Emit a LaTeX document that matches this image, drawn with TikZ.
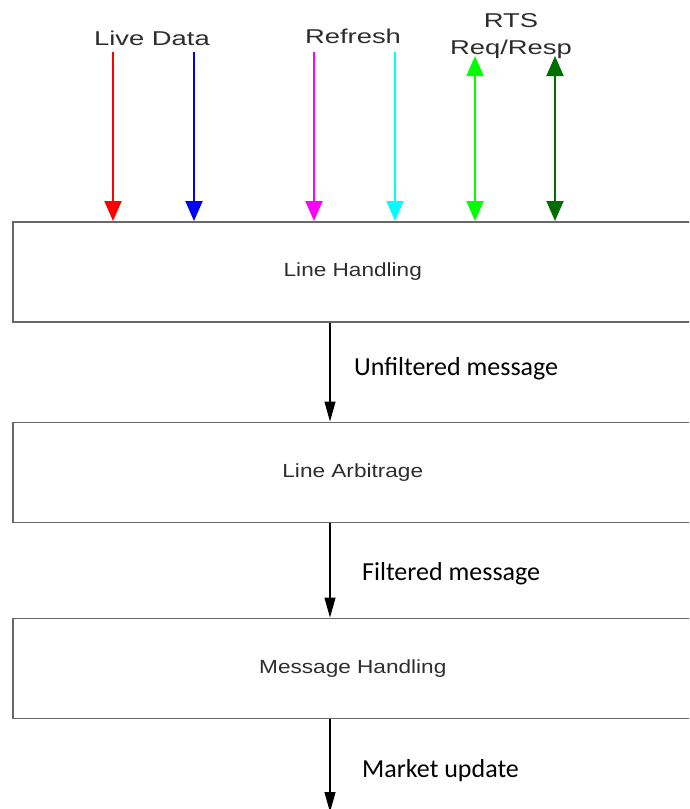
\documentclass[tikz,border=0pt]{standalone}
\usepackage{fontspec}
\usepackage{graphicx}
\newfontfamily\arialfont{Liberation Sans}
\newfontfamily\calfont{Carlito}
\usetikzlibrary{arrows.meta}

\definecolor{boxgray}{RGB}{105,105,105}
\definecolor{labelgray}{RGB}{45,45,45}
\definecolor{feedred}{RGB}{255,0,0}
\definecolor{feedblue}{RGB}{0,0,255}
\definecolor{feedmagenta}{RGB}{255,0,255}
\definecolor{feedcyan}{RGB}{0,255,255}
\definecolor{rtsgreen}{RGB}{0,255,0}
\definecolor{rtsdark}{RGB}{0,110,0}

\newcommand\widetop[1]{\scalebox{1.37}[1]{#1}}
\newcommand\widebox[1]{\scalebox{1.19}[1]{#1}}

\begin{document}
\begin{tikzpicture}[x=1pt,y=-1pt,>={Triangle[width=17pt,length=20pt]}]

    \useasboundingbox (0,0) rectangle (689,809);
    \clip (0,0) rectangle (689,809);

    \tikzstyle{layer}=[draw=boxgray, line width=1.6pt, minimum width=680pt, minimum height=100pt, inner sep=0pt, anchor=north west, text=labelgray, font=\arialfont\fontsize{19}{23}\selectfont]
    \tikzstyle{feedtext}=[text=labelgray, font=\arialfont\fontsize{20}{27}\selectfont, align=center]
    \tikzstyle{feed}=[->, line width=2pt]
    \tikzstyle{rts}=[<->, line width=2pt]
    \tikzstyle{flow}=[->, line width=1.2pt, >={Triangle[width=11pt,length=20pt]}]
    \tikzstyle{flowtext}=[anchor=base west, inner sep=0pt, font=\calfont\fontsize{26}{30}\selectfont]

    % the three processing layers
    \node[layer] (line_handling) at (12,221) {\widebox{Line Handling}};
    \node[layer] (line_arbitrage) at (12,421.5) {\widebox{Line Arbitrage}};
    \node[layer] (message_handling) at (12,617.5) {\widebox{Message Handling}};

    % inputs on top
    \node[feedtext, anchor=base] (live_data) at (152,45) {\widetop{Live Data}};
    \node[feedtext, anchor=base] (refresh) at (353,43) {\widetop{Refresh}};
    \node[feedtext] (rts_req) at (511,36) {\widetop{RTS}\\\widetop{Req/Resp}};

    \coordinate (red_in) at (113,52);
    \coordinate (blue_in) at (194,52);
    \coordinate (magenta_in) at (314,52);
    \coordinate (cyan_in) at (395,52);
    \coordinate (green_in) at (475,56);
    \coordinate (dark_in) at (555,56);
    \coordinate (axis) at (330,0);
    \coordinate (out) at (330,812);

    \draw[feed, feedred] (red_in) -- (red_in |- line_handling.north);
    \draw[feed, feedblue] (blue_in) -- (blue_in |- line_handling.north);
    \draw[feed, feedmagenta] (magenta_in) -- (magenta_in |- line_handling.north);
    \draw[feed, feedcyan] (cyan_in) -- (cyan_in |- line_handling.north);
    \draw[rts, rtsgreen] (green_in) -- (green_in |- line_handling.north);
    \draw[rts, rtsdark] (dark_in) -- (dark_in |- line_handling.north);

    % message flow down through the layers
    \draw[flow] (line_handling.south -| axis) -- (line_arbitrage.north -| axis);
    \draw[flow] (line_arbitrage.south -| axis) -- (message_handling.north -| axis);
    \draw[flow] (message_handling.south -| axis) -- (out);

    \node[flowtext] (unfiltered) at (354,375) {Unfiltered message};
    \node[flowtext] (filtered) at (362,580) {Filtered message};
    \node[flowtext] (market) at (362,777) {Market update};

\end{tikzpicture}
\end{document}
